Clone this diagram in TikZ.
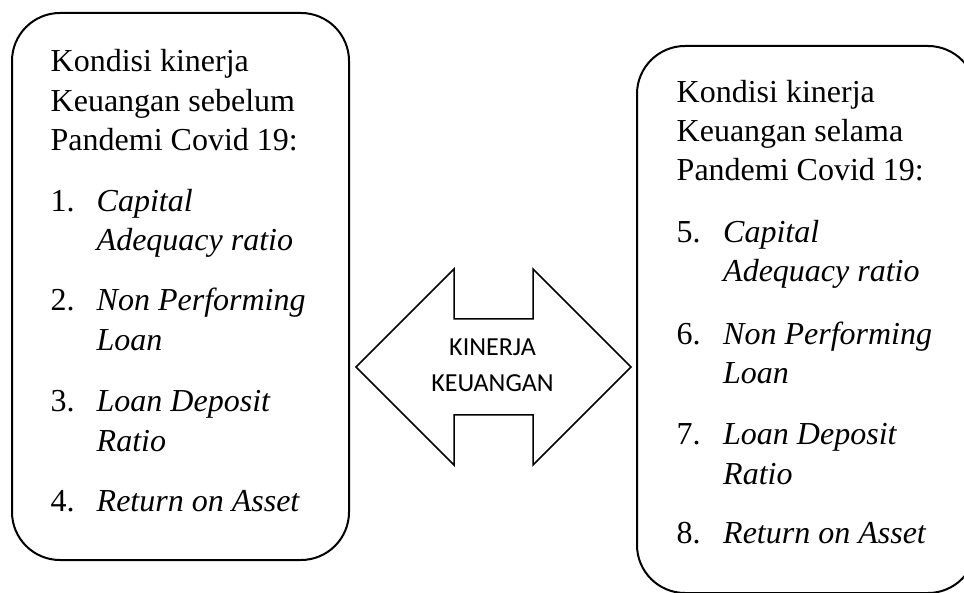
\documentclass[tikz,border=0pt]{standalone}
\usepackage{fontspec}
\setmainfont{Liberation Serif}
\newfontfamily\calib{Carlito}
\begin{document}
\begin{tikzpicture}[x=1pt,y=-1pt,
  boxline/.style={draw=black,line width=2pt,rounded corners=48pt},
  arrowline/.style={draw=black,line width=1.5pt,line join=miter},
  txt/.style={anchor=base west,inner sep=0pt,font=\fontsize{32}{39}\selectfont},
  atxt/.style={anchor=base,inner sep=0pt,font=\calib\fontsize{26}{32}\selectfont}]
\useasboundingbox (0,0) rectangle (964,593);
\clip (0,0) rectangle (964,593);
% boxes
\draw[boxline] (12,13) rectangle (349,560);
\draw[boxline] (637,46) rectangle (976,593);
% double arrow
\draw[arrowline] (356,367) -- (454,269) -- (454,319) -- (533,319) -- (533,269)
  -- (631,367) -- (533,465) -- (533,415) -- (454,415) -- (454,465) -- cycle;
\node[atxt] (k1) at (492.5,356) {KINERJA};
\node[atxt] (k2) at (492.5,391.5) {KEUANGAN};
% left text
\node[txt] (l1) at (50.5,72) {Kondisi kinerja};
\node[txt] (l2) at (50.5,111.5) {Keuangan sebelum};
\node[txt] (l3) at (50.5,150.5) {Pandemi Covid 19:};
\node[txt] (n1) at (50.5,211.5) {1.};
\node[txt] (i1a) at (96.5,211.5) {\textit{Capital}};
\node[txt] (i1b) at (96.5,250.5) {\textit{Adequacy ratio}};
\node[txt] (n2) at (50.5,311) {2.};
\node[txt] (i2a) at (96.5,311) {\textit{Non Performing}};
\node[txt] (i2b) at (96.5,350.5) {\textit{Loan}};
\node[txt] (n3) at (50.5,411.5) {3.};
\node[txt] (i3a) at (96.5,411.5) {\textit{Loan Deposit}};
\node[txt] (i3b) at (96.5,451) {\textit{Ratio}};
\node[txt] (n4) at (50.5,511.5) {4.};
\node[txt] (i4a) at (96.5,511.5) {\textit{Return on Asset}};
% right text
\node[txt] (r1) at (676.5,102.5) {Kondisi kinerja};
\node[txt] (r2) at (676.5,141.5) {Keuangan selama};
\node[txt] (r3) at (676.5,180.5) {Pandemi Covid 19:};
\node[txt] (n5) at (676.5,243) {5.};
\node[txt] (i5a) at (723,243) {\textit{Capital}};
\node[txt] (i5b) at (723,282) {\textit{Adequacy ratio}};
\node[txt] (n6) at (676.5,345) {6.};
\node[txt] (i6a) at (723,345) {\textit{Non Performing}};
\node[txt] (i6b) at (723,383.5) {\textit{Loan}};
\node[txt] (n7) at (676.5,445) {7.};
\node[txt] (i7a) at (723,445) {\textit{Loan Deposit}};
\node[txt] (i7b) at (723,484.5) {\textit{Ratio}};
\node[txt] (n8) at (676.5,543.5) {8.};
\node[txt] (i8a) at (723,543.5) {\textit{Return on Asset}};
\end{tikzpicture}
\end{document}
